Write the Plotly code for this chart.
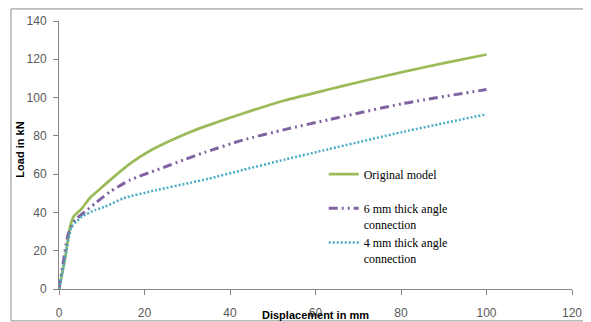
import plotly.graph_objects as go

# Data
orig_x = [0, 1.5, 2.6, 3.4, 5.4, 7.3, 9.3, 12, 16.7, 21.3, 26, 30.7, 35, 43, 53, 63, 70, 80.5, 90, 100]
orig_y = [0, 17, 32.6, 37.8, 42.2, 47.8, 51.7, 57, 65.6, 72.2, 77.4, 82.0, 85.6, 91.7, 98.6, 104.2, 108, 113.4, 118, 122.5]

mm6_x = [0, 1, 2.2, 3.8, 6.1, 8.5, 12, 16.7, 22.9, 29.1, 34, 43, 53, 63, 80.5, 100]
mm6_y = [0, 14, 29, 36.1, 40.4, 44.8, 50.9, 57, 62.2, 67.4, 71.3, 77.8, 83.4, 88.4, 96.9, 104.2]

mm4_x = [0, 1, 1.9, 3, 5.4, 8.5, 10.8, 15.1, 22.9, 30.7, 35, 43, 53, 63, 80.5, 100]
mm4_y = [0, 11, 22.2, 32.6, 37.8, 41.3, 43, 47.4, 51.7, 55.5, 57.6, 62.2, 67.7, 73, 82.1, 91.3]

names = ["Original model<br>\u00a0", "6 mm thick angle<br>connection", "4 mm thick angle<br>connection"]
x_ticks = [0, 20, 40, 60, 80, 100, 120]
y_ticks = [0, 20, 40, 60, 80, 100, 120, 140]

fig = go.Figure()
fig.add_trace(go.Scatter(x=orig_x, y=orig_y, mode="lines", name=names[0],
                         line=dict(color="#9BBB59", width=2.75, shape="spline", smoothing=0.6),
                         cliponaxis=False))
fig.add_trace(go.Scatter(x=mm6_x, y=mm6_y, mode="lines", name=names[1],
                         line=dict(color="#8064A2", width=3, dash="9px,4px,2px,4px,2px,4px",
                                   shape="spline", smoothing=0.6),
                         cliponaxis=False))
fig.add_trace(go.Scatter(x=mm4_x, y=mm4_y, mode="lines", name=names[2],
                         line=dict(color="#4BACC6", width=2.5, dash="2px,2px",
                                   shape="spline", smoothing=0.6),
                         cliponaxis=False))

tickfont = dict(family="Liberation Sans", size=12, color="#595959")
fig.update_xaxes(range=[0, 120], tickvals=x_ticks, showgrid=False, zeroline=False,
                 showline=True, linecolor="#868686", linewidth=1,
                 ticks="outside", ticklen=5, tickcolor="#868686",
                 tickfont=tickfont, ticklabelstandoff=8, automargin=False)
fig.update_yaxes(range=[0, 140], tickvals=y_ticks, showgrid=False, zeroline=False,
                 showline=True, linecolor="#868686", linewidth=1,
                 ticks="outside", ticklen=5, tickcolor="#868686",
                 tickfont=tickfont, ticklabelstandoff=4, automargin=False)

# The page body has an 8px default margin, so the figure is 8px smaller and margins offset
fig.update_layout(
    width=583, height=314,
    margin=dict(l=51, r=19, t=13, b=33, autoexpand=False),
    paper_bgcolor="white", plot_bgcolor="white",
    showlegend=True,
    legend=dict(x=0.516, y=0.482, xanchor="left", yanchor="top",
                font=dict(family="Liberation Serif", size=12, color="black"),
                valign="top", tracegroupgap=0, itemwidth=30,
                bgcolor="rgba(0,0,0,0)"),
    annotations=[
        dict(text="<b>Displacement in mm</b>", xref="paper", yref="paper",
             x=0.5, y=-0.097, xanchor="center", yanchor="middle", showarrow=False,
             font=dict(family="Liberation Sans", size=11, color="black")),
        dict(text="<b>Load in kN</b>", xref="paper", yref="paper",
             x=-0.076, y=0.52, xanchor="center", yanchor="middle", showarrow=False,
             textangle=-90, font=dict(family="Liberation Sans", size=11, color="black")),
    ],
    shapes=[dict(type="rect", xref="paper", yref="paper",
                 x0=-0.0936, x1=1.04, y0=-0.119, y1=1.045,
                 line=dict(color="#8c8c8c", width=1), fillcolor="rgba(0,0,0,0)")],
)

fig.write_html("out.html")
